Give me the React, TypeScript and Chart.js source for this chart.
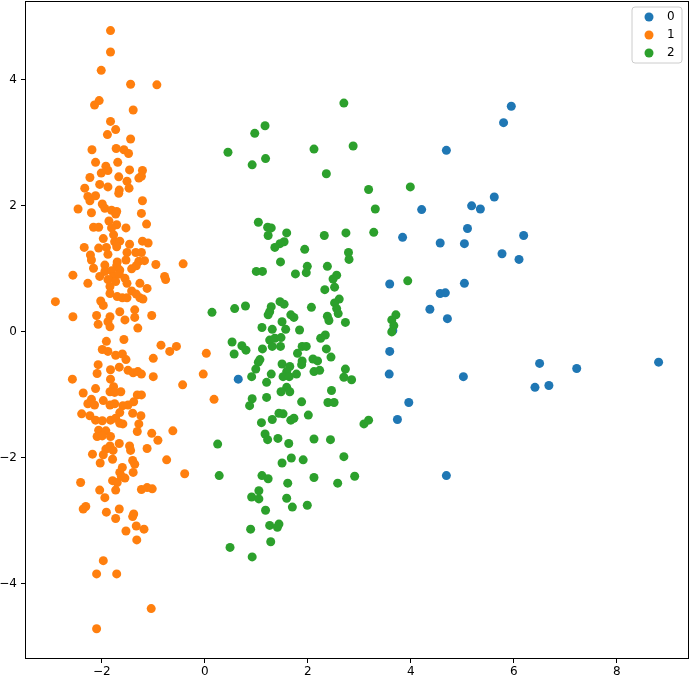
import React, { useEffect, useRef } from 'react';
import { Chart, registerables } from 'chart.js';

Chart.register(...registerables);

const seriesLabels = ['0', '1', '2'];
const seriesColors = ['#1f77b4', '#ff7f0e', '#2ca02c'];
const xTicks = [-2, 0, 2, 4, 6, 8];
const yTicks = [-4, -2, 0, 2, 4];
const xRange = [-3.49, 9.4];
const yRange = [-5.19, 5.25];

const blueX = [5.95, 5.80, 4.69, 5.62, 4.21, 5.18, 5.35, 5.10, 3.84, 4.57, 5.04, 6.19, 5.77, 6.10, 3.59, 5.04, 4.57, 4.67, 4.37, 4.71, 3.65, 3.59, 3.58, 5.02, 6.50, 7.22, 8.81, 6.41, 6.68, 3.96, 3.74, 4.69, 0.65];
const blueY = [3.58, 3.32, 2.88, 2.14, 1.94, 2.00, 1.95, 1.64, 1.50, 1.41, 1.40, 1.53, 1.24, 1.15, 0.76, 0.77, 0.61, 0.62, 0.36, 0.21, 0.02, -0.31, -0.67, -0.71, -0.50, -0.58, -0.48, -0.88, -0.85, -1.12, -1.39, -2.28, -0.75];

const orangeX = [
  -1.83, -1.83, -2.01, -1.44, -0.93, -2.05, -2.14, -1.39, -1.83, -1.73, -1.89, -1.44, -2.19, -1.72, -1.57, -1.48, -2.12, -1.69, -1.92, -1.46, -1.21, -1.88,
  -2.01, -2.23, -1.67, -1.51, -1.28, -1.23, -2.33, -2.04, -1.88, -1.66, -1.47, -1.67, -2.27, -2.12, -2.23, -1.21, -2.46, -2.20, -1.99, -1.94, -1.81, -1.71, -1.73, -1.23, -1.86, -1.71, -1.13, -2.16, -2.06, -1.81, -1.53, -1.77, -1.97, -1.75, -1.65, -1.21, -1.10, -1.46, -2.34, -2.06, -1.91, -1.71, -1.51, -1.34, -1.23, -2.22, -1.88, -1.53, -2.20, -1.70, -1.28, -1.17, -0.95, -0.42, -1.94, -1.71, -1.33, -2.16, -1.42, -1.65, -2.56, -1.94, -1.81, -2.04, -1.77, -1.66, -0.78, -0.76, -1.55, -2.27, -1.88, -1.73, -1.51, -1.26, -1.12, -1.84, -1.42, -1.84, -1.70, -1.60, -1.51, -1.33, -1.26, -1.20, -2.90, -2.02, -1.97, -2.56, -2.10, -1.65, -1.84, -1.36, -1.36, -1.03, -1.55, -2.07, -1.88, -1.84, -1.30,
  -1.57, -1.91, -0.85, -0.55, -1.99, -1.88, -0.68, -1.73, -1.60, -1.53, -1.00, 0.03, -2.07, -1.66, -1.83, -1.49, -1.39, -1.30, -1.23, -2.09, -2.57, -1.83, -1.00, -0.03, -0.43, -2.12, -1.77, -1.84, -1.75, -1.63, -2.36, -1.31, -1.23, -2.20, -1.97, -1.38, -2.27, -2.14, -1.84, -1.75, -1.59, -1.49, -1.65, -2.39, -1.40, -2.23, -1.24, -2.12, -1.99, -1.83, -1.73, -1.65, -1.59, -1.28, -2.06, -1.92, -1.31, -0.62, -2.09, -1.99, -1.83, -1.03, -0.91, -1.66, -1.84, -1.46, -1.12, -1.92, -1.78, -1.44, -2.18, -1.97, -1.79, -1.40, -0.74, -2.03, -1.36, -1.60, -1.65, -1.39, -0.39, -1.62, -1.55, -1.79, -1.70, -2.41, -1.73, -2.04, -1.23, -1.12, -1.02, 0.18,
  -1.94, -2.31, -2.36, -1.91, -1.66, -1.73, -1.38, -1.40, -1.33, -1.18, -1.53, -1.32, -1.97, -2.10, -1.71, -1.04, -2.10,
];
const orangeY = [
  4.78, 4.44, 4.15, 3.93, 3.92, 3.67, 3.60, 3.52, 3.34, 3.21, 3.13, 3.06, 2.89, 2.91, 2.89, 2.83, 2.69, 2.69, 2.63, 2.57, 2.56, 2.56,
  2.52, 2.45, 2.46, 2.39, 2.44, 2.47, 2.28, 2.34, 2.30, 2.25, 2.28, 2.20, 2.15, 2.16, 2.08, 2.08, 1.95, 1.89, 2.03, 1.96, 1.93, 1.91, 1.87, 1.88, 1.76, 1.70, 1.71, 1.66, 1.66, 1.65, 1.65, 1.54, 1.48, 1.43, 1.44, 1.44, 1.41, 1.39, 1.34, 1.33, 1.34, 1.35, 1.26, 1.26, 1.26, 1.22, 1.23, 1.14, 1.14, 1.11, 1.12, 1.13, 1.07, 1.08, 1.06, 1.05, 1.05, 1.01, 1.00, 0.98, 0.90, 0.96, 0.97, 0.88, 0.88, 0.92, 0.88, 0.83, 0.85, 0.77, 0.83, 0.80, 0.77, 0.77, 0.69, 0.72, 0.65, 0.61, 0.56, 0.54, 0.54, 0.60, 0.54, 0.52, 0.48, 0.49, 0.42, 0.24, 0.26, 0.32, 0.24, 0.35, 0.23, 0.26, 0.19, 0.12, 0.16, 0.08, 0.06,
  -0.12, -0.15, -0.21, -0.23, -0.28, -0.31, -0.31, -0.37, -0.35, -0.44, -0.42, -0.34, -0.52, -0.56, -0.60, -0.61, -0.65, -0.63, -0.67, -0.66, -0.75, -0.75, -0.71, -0.67, -0.84, -0.90, -0.87, -0.95, -0.96, -0.95, -0.97, -1.00, -1.00, -1.07, -1.09, -1.11, -1.14, -1.16, -1.16, -1.14, -1.17, -1.16, -1.28, -1.30, -1.29, -1.33, -1.33, -1.40, -1.41, -1.40, -1.37, -1.45, -1.46, -1.46, -1.56, -1.57, -1.58, -1.57, -1.66, -1.65, -1.66, -1.61, -1.72, -1.77, -1.81, -1.81, -1.85, -1.86, -1.88, -1.88, -1.94, -1.95, -2.02, -2.04, -2.03, -2.08, -2.10, -2.15, -2.23, -2.23, -2.25, -2.29, -2.32, -2.36, -2.39, -2.39, -2.51, -2.51, -2.50, -2.47, -2.49, -1.07,
  -2.63, -2.77, -2.81, -2.86, -2.81, -2.96, -2.89, -2.93, -3.08, -3.13, -3.16, -3.30, -3.63, -3.84, -3.84, -4.39, -4.71,
];

const greenX = [
  2.70, 1.17, 0.97, 2.12, 2.88, 0.45, 1.18, 0.92, 2.36, 3.18, 3.31, 1.04, 1.22, 1.29, 1.23, 1.59, 2.32, 2.74, 3.28, 1.54, 1.46, 1.36, 1.94, 2.79, 2.80, 1.47, 1.99, 1.97, 2.38, 1.00, 1.12, 1.76, 2.56, 2.49, 2.52, 2.33, 2.61, 2.52, 2.56, 2.59, 1.29, 1.46, 1.54, 2.07, 0.14, 0.58, 0.79, 1.26, 1.23, 1.50, 1.67, 1.73, 2.38, 2.41, 2.73, 1.11, 1.31, 1.57, 1.84,
  0.53, 0.72, 0.80, 0.57, 1.26, 1.36, 1.48, 1.31, 1.47, 1.12, 2.25, 2.34, 1.89, 1.97, 1.80, 2.36, 2.45, 1.07, 1.04, 0.99, 0.91, 1.50, 1.65, 1.59, 1.89, 1.88, 2.10, 2.19, 2.12, 2.23, 1.29, 1.52, 1.64, 1.78, 2.73, 2.70, 2.85, 1.20, 1.59, 1.48, 1.65, 2.46, 0.92, 0.87, 1.20, 1.88, 2.39, 2.51, 1.44, 1.52, 1.31, 1.67, 1.73, 2.01, 1.10, 3.09, 3.18, 1.17, 1.22, 1.42, 1.63, 2.12, 2.44, 0.25, 1.68, 1.91, 1.50, 2.70, 0.28, 1.11, 1.23, 1.61, 2.12, 2.58, 2.91, 1.05, 0.91, 1.05, 1.59, 1.70, 1.99, 1.18, 1.26, 1.44, 1.41, 0.89, 1.28, 0.49, 0.92,
  3.99, 3.94, 3.71, 3.63, 3.67, 3.63,
];
const greenY = [
  3.63, 3.27, 3.15, 2.90, 2.95, 2.85, 2.75, 2.65, 2.51, 2.26, 1.95, 1.74, 1.66, 1.65, 1.53, 1.57, 1.53, 1.57, 1.58, 1.43, 1.40, 1.34, 1.31, 1.26, 1.15, 1.11, 1.04, 0.94, 1.04, 0.96, 0.96, 0.92, 0.90, 0.84, 0.71, 0.67, 0.52, 0.46, 0.37, 0.29, 0.40, 0.48, 0.44, 0.39, 0.31, 0.37, 0.41, 0.32, 0.27, 0.16, 0.27, 0.23, 0.25, 0.18, 0.15, 0.07, 0.04, 0.04, 0.03,
  -0.16, -0.22, -0.29, -0.35, -0.13, -0.10, -0.09, -0.23, -0.23, -0.27, -0.10, -0.05, -0.23, -0.23, -0.34, -0.27, -0.40, -0.44, -0.48, -0.59, -0.71, -0.51, -0.55, -0.63, -0.46, -0.52, -0.43, -0.46, -0.63, -0.61, -0.67, -0.71, -0.71, -0.67, -0.59, -0.72, -0.76, -0.80, -0.88, -0.95, -0.95, -0.93, -1.06, -1.17, -1.04, -1.11, -1.12, -1.12, -1.29, -1.30, -1.39, -1.40, -1.37, -1.32, -1.44, -1.46, -1.40, -1.62, -1.71, -1.69, -1.77, -1.70, -1.71, -1.78, -2.00, -2.03, -2.08, -1.98, -2.28, -2.28, -2.33, -2.40, -2.31, -2.40, -2.29, -2.52, -2.62, -2.65, -2.64, -2.78, -2.75, -2.83, -3.07, -3.05, -3.10, -3.13, -3.33, -3.42, -3.57,
  2.30, 0.81, 0.27, 0.19, 0.10, 0.00,
];

const seriesX = [blueX, orangeX, greenX];
const seriesY = [blueY, orangeY, greenY];

const FONT = '"DejaVu Sans", sans-serif';

export default function App() {
  const ref = useRef<HTMLCanvasElement>(null);

  useEffect(() => {
    document.body.style.margin = '0';
    const canvas = ref.current;
    if (!canvas) return;

    const fmt = (v: number) => (v < 0 ? '\u2212' + Math.abs(v) : String(v));

    const frameLegend = {
      id: 'frameLegend',
      afterDraw(chart: any) {
        const { ctx, chartArea } = chart;
        const { left, right, top, bottom } = chartArea;
        ctx.save();
        ctx.strokeStyle = '#000';
        ctx.lineWidth = 1;
        ctx.strokeRect(left + 0.5, top + 0.5, right - left - 1, bottom - top - 1);

        // legend box
        const bw = 50;
        const bh = 56;
        const bx = right - 7 - bw;
        const by = top + 6;
        const r = 3;
        ctx.beginPath();
        ctx.moveTo(bx + r, by);
        ctx.lineTo(bx + bw - r, by);
        ctx.quadraticCurveTo(bx + bw, by, bx + bw, by + r);
        ctx.lineTo(bx + bw, by + bh - r);
        ctx.quadraticCurveTo(bx + bw, by + bh, bx + bw - r, by + bh);
        ctx.lineTo(bx + r, by + bh);
        ctx.quadraticCurveTo(bx, by + bh, bx, by + bh - r);
        ctx.lineTo(bx, by + r);
        ctx.quadraticCurveTo(bx, by, bx + r, by);
        ctx.closePath();
        ctx.fillStyle = 'rgba(255,255,255,0.8)';
        ctx.fill();
        ctx.strokeStyle = 'rgb(204,204,204)';
        ctx.stroke();

        ctx.font = '12px ' + FONT;
        ctx.textBaseline = 'middle';
        ctx.textAlign = 'left';
        seriesLabels.forEach((lab, i) => {
          const cy = by + 10 + i * 18;
          ctx.beginPath();
          ctx.arc(bx + 17, cy, 4.5, 0, Math.PI * 2);
          ctx.fillStyle = seriesColors[i];
          ctx.fill();
          ctx.fillStyle = '#000';
          ctx.fillText(lab, bx + 35, cy);
        });
        ctx.restore();
      },
    };

    const datasets = seriesLabels.map((lab, i) => ({
      label: lab,
      data: seriesX[i].map((x, j) => ({ x, y: seriesY[i][j] })),
      backgroundColor: seriesColors[i],
      borderColor: seriesColors[i],
      pointRadius: 4.5,
      pointBorderWidth: 0,
      order: 3 - i,
    }));

    const chart = new Chart(canvas, {
      type: 'scatter',
      data: { datasets },
      options: {
        responsive: false,
        maintainAspectRatio: false,
        animation: false,
        events: [],
        layout: { autoPadding: false, padding: { top: 1, right: 1, left: 0, bottom: 0 } },
        plugins: {
          legend: { display: false },
          tooltip: { enabled: false },
        },
        scales: {
          x: {
            type: 'linear',
            min: xRange[0],
            max: xRange[1],
            afterBuildTicks: (s: any) => {
              s.ticks = xTicks.map((v) => ({ value: v }));
            },
            afterFit: (s: any) => {
              s.height = 20;
              s.paddingLeft = 0;
              s.paddingRight = 0;
            },
            grid: { display: true, drawOnChartArea: false, drawTicks: true, tickLength: 4, color: '#000' },
            border: { display: false },
            ticks: {
              padding: 2,
              color: '#000',
              font: { family: FONT, size: 12 },
              maxRotation: 0,
              callback: (v: any) => fmt(Number(v)),
            },
          },
          y: {
            type: 'linear',
            min: yRange[0],
            max: yRange[1],
            afterBuildTicks: (s: any) => {
              s.ticks = yTicks.map((v) => ({ value: v }));
            },
            afterFit: (s: any) => {
              s.width = 25;
              s.paddingTop = 0;
              s.paddingBottom = 0;
            },
            grid: { display: true, drawOnChartArea: false, drawTicks: true, tickLength: 4, color: '#000' },
            border: { display: false },
            ticks: {
              padding: 4,
              color: '#000',
              font: { family: FONT, size: 12 },
              callback: (v: any) => fmt(Number(v)),
            },
          },
        },
      },
      plugins: [frameLegend],
    });

    return () => chart.destroy();
  }, []);

  return <canvas ref={ref} width={690} height={679} style={{ display: 'block' }} />;
}
